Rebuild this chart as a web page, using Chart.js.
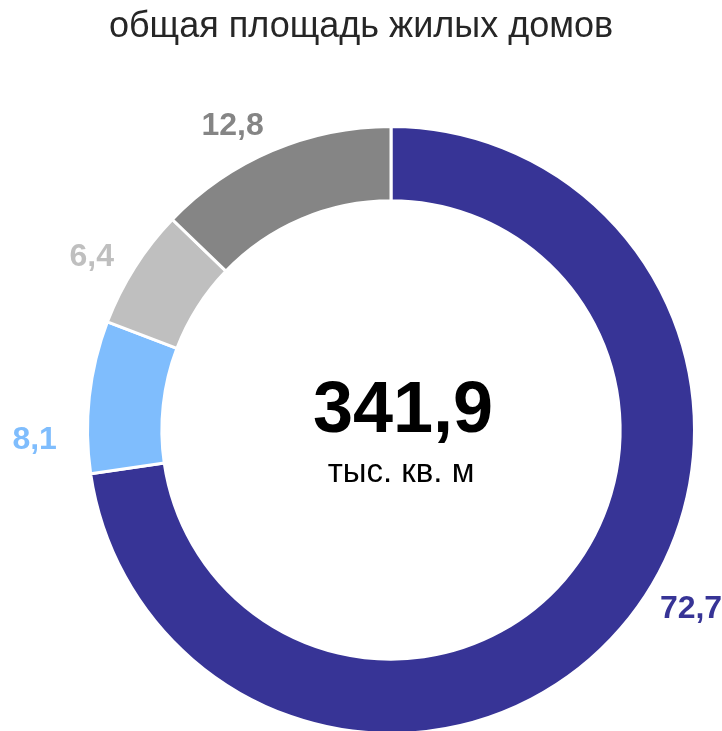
<!DOCTYPE html>
<html>
<head>
<meta charset="utf-8">
<script src="https://cdn.jsdelivr.net/npm/chart.js@4.4.1/dist/chart.umd.min.js"></script>
<style>
  html, body { margin: 0; padding: 0; background: #fff; overflow: hidden; }
  #wrap { width: 722px; height: 731px; overflow: hidden; }
</style>
</head>
<body>
<div id="wrap"><canvas id="area-chart" width="722" height="760"></canvas></div>
<script>
// Data ======================================
const categories = ["cat1", "cat2", "cat3", "cat4"];
const shares = [72.7, 8.1, 6.4, 12.8];
const labelsText = ["72,7", "8,1", "6,4", "12,8"];
const colors = ["#373496", "#7FBDFD", "#BFBFBF", "#858585"];
const titleText = "общая площадь жилых домов";
const totalText = "341,9";
const unitText = "тыс. кв. м";

// label nudges (degrees along ring, px beyond outer edge)
const labelShift = [-10, -8, -2.4, -4.5];
const labelGap = [46, 53, 42, 39];

// plugin block
const doughnutText = {
  id: "doughnutText",
  afterDatasetsDraw(chart) {
    const { ctx } = chart;
    const arcs = chart.getDatasetMeta(0).data;
    const cx = arcs[0].x;
    const cy = arcs[0].y;
    ctx.save();

    // title
    ctx.fillStyle = "#262626";
    ctx.font = "36px 'Liberation Sans', Arial, sans-serif";
    ctx.textAlign = "center";
    ctx.textBaseline = "alphabetic";
    ctx.fillText(titleText, chart.width / 2, 37);

    // segment labels
    ctx.textBaseline = "middle";
    ctx.font = "bold 32px 'Liberation Sans', Arial, sans-serif";
    arcs.forEach((arc, i) => {
      const mid = (arc.startAngle + arc.endAngle) / 2 + (labelShift[i] * Math.PI) / 180;
      const r = arc.outerRadius + labelGap[i];
      ctx.fillStyle = colors[i];
      ctx.fillText(labelsText[i], cx + Math.cos(mid) * r, cy + Math.sin(mid) * r);
    });

    // centre
    ctx.textBaseline = "alphabetic";
    ctx.fillStyle = "#000";
    ctx.font = "bold 72px 'Liberation Sans', Arial, sans-serif";
    ctx.fillText(totalText, cx + 12, cy + 2);
    ctx.font = "33px 'Liberation Sans', Arial, sans-serif";
    ctx.fillText(unitText, cx + 10, cy + 52);
    ctx.restore();
  },
};

// config
const areaChart = {
  type: "doughnut",
  data: {
    labels: categories,
    datasets: [
      {
        data: shares,
        backgroundColor: colors,
        borderColor: "#ffffff",
        borderWidth: 3,
      },
    ],
  },
  options: {
    responsive: false,
    animation: false,
    cutout: "75.5%",
    layout: { padding: { top: 125, left: 60, right: 0, bottom: 25 } },
    plugins: {
      legend: { display: false },
      tooltip: { enabled: false },
    },
  },
  plugins: [doughnutText],
};

const myChart = new Chart(document.getElementById("area-chart"), areaChart);
</script>
</body>
</html>
